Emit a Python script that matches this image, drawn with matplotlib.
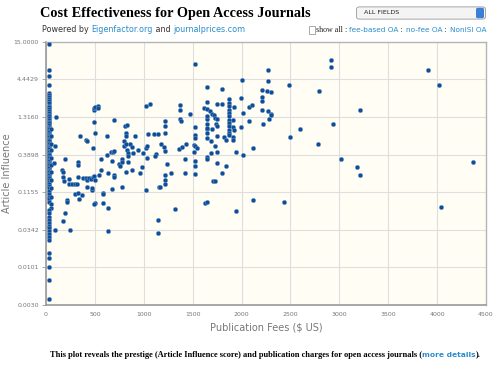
import matplotlib
matplotlib.use("Agg")
import matplotlib.pyplot as plt
from matplotlib.patches import FancyBboxPatch, Rectangle
from matplotlib.ticker import FixedLocator, FixedFormatter, NullLocator

# journals that charge nothing (drawn at the left edge)
free_fee = [30] * 70 + [50] * 12
free_ai = [14.0, 6.0, 4.9, 3.65, 2.9, 2.7, 2.5, 2.35, 2.2, 2.05, 1.9, 1.8, 1.7, 1.6,
           1.5, 1.42, 1.35, 1.28, 1.2, 1.13, 1.07, 1.0, 0.96, 0.92, 0.88, 0.84, 0.8,
           0.77, 0.74, 0.71, 0.68, 0.65, 0.62, 0.6, 0.57, 0.55, 0.52, 0.5, 0.48, 0.46,
           0.44, 0.42, 0.4, 0.38, 0.36, 0.345, 0.33, 0.315, 0.3, 0.29, 0.275, 0.26,
           0.25, 0.24, 0.23, 0.22, 0.21, 0.2, 0.19, 0.18, 0.17, 0.16, 0.15, 0.14, 0.13,
           0.12, 0.11, 0.1, 0.092, 0.085,
           0.9, 0.7, 0.55, 0.45, 0.35, 0.28, 0.22, 0.17, 0.13, 0.1, 0.078, 0.07]
low_free_ai = [0.064, 0.058, 0.052, 0.047, 0.043, 0.039, 0.036, 0.033, 0.03, 0.027,
               0.0245, 0.0162, 0.0136, 0.0102, 0.0067, 0.0036]

# fee-based journals
fees = [103, 95, 79, 95, 192, 164, 171, 178, 185, 239, 236, 270, 294, 315, 212, 219,
        198, 178, 243, 328, 328, 325, 301, 328, 342, 372, 346, 383, 407, 418, 421, 413,
        424, 444, 462, 475, 475, 485, 496, 500, 500, 479, 496, 492, 496, 506, 530, 534,
        503, 496, 541, 561, 564, 582, 578, 578, 629, 629, 623, 626, 629, 677, 698, 664,
        684, 698, 670, 698, 698, 777, 746, 752, 780, 780, 793, 793, 814, 807, 828, 821,
        821, 828, 834, 834, 834, 821, 875, 855, 882, 890, 910, 937, 964, 982, 992, 1026,
        1064, 1026, 1033, 1026, 1039, 1101, 1142, 1033, 1129, 1111, 1152, 1142, 1142,
        1177, 1162,
        1522, 2267, 2001, 2267, 2490, 2788, 1649, 1803, 2206, 2264, 2298, 1990, 2206,
        2206, 1375, 1375, 1642, 1744, 1803, 1621, 1649, 1675, 1700, 1716, 1724, 1922,
        2076, 2110, 2011, 2206, 2271, 2298, 1477, 1375, 1385, 1221, 1221, 1221, 1642,
        1649, 1642, 1751, 1734, 1744,
        1870, 1870, 1870, 1870, 1870, 1870, 1870, 1870, 1870, 1870, 1870, 1870,
        1916, 1916, 1922, 2076, 1990, 2281, 2219, 1526, 1526, 1526, 1511, 1526, 1546,
        1511, 1526, 1526, 1526, 1649, 1649, 1649, 1683, 1819, 1837, 1916, 1916, 1724,
        1744, 1690, 1642, 1649, 1744, 1837, 1803, 1939, 2018, 2121, 1203, 1221, 1238,
        1221, 1279, 1361, 1388, 1436, 1426, 1423, 1221, 1214, 1710, 1724, 1624, 1649,
        2121, 2435, 1324, 1939, 2599, 2493, 2784, 1700, 1744, 1649, 2298,
        2914, 2914, 3906, 4015, 3211, 2937, 3013, 3184, 3211, 4371, 4035]
influence = [1.32, 0.52, 0.30, 0.034, 0.34, 0.24, 0.225, 0.19, 0.163, 0.176, 0.151,
             0.148, 0.151, 0.148, 0.090, 0.083, 0.059, 0.045, 0.034, 0.31, 0.28, 0.19,
             0.110, 0.114, 0.093, 0.106, 0.70, 0.185, 0.185, 0.172, 0.138, 0.63, 0.61,
             0.182, 0.176, 0.124, 0.134, 0.188, 0.196, 0.172, 0.785, 0.476, 1.12, 1.64,
             1.77, 1.83, 1.9, 1.77, 0.081, 0.079, 0.2, 0.34, 0.24, 0.114, 0.109, 0.082,
             0.069, 0.033, 0.70, 0.39, 0.218, 0.127, 1.18, 0.42, 0.43, 0.44, 0.32, 0.2,
             0.19, 0.138, 0.29, 0.265, 0.34, 0.31, 0.6, 0.51, 0.55, 0.97, 1.03, 0.785,
             0.70, 0.456, 0.41, 0.367, 0.306, 0.223, 0.233, 0.55, 0.5, 0.41, 0.70, 0.456,
             0.214, 0.26, 0.41, 1.86, 2.03, 0.487, 0.508, 0.124, 0.75, 0.767, 0.75,
             0.344, 0.40, 0.367, 0.138, 0.047, 0.0305, 0.55, 0.137,
             7.4, 6.1, 4.4, 4.16, 3.65, 3.07, 3.42, 3.28, 3.2, 3.03, 2.97, 2.45, 2.49,
             2.24, 1.97, 1.66, 2.15, 2.01, 2.01, 1.77, 1.73, 1.62, 1.455, 1.39, 1.28,
             1.84, 1.84, 1.97, 1.48, 1.66, 1.62, 1.455, 1.455, 1.25, 1.17, 1.14, 0.985,
             0.785, 1.22, 1.05, 0.882, 1.25, 1.05, 0.972,
             2.32, 2.08, 1.86, 1.67, 1.50, 1.35, 1.21, 1.086, 0.972, 0.873, 0.785, 0.742,
             1.21, 0.941, 0.873, 1.17, 0.941, 1.25, 1.05, 0.963, 0.742, 0.667, 0.537,
             0.508, 0.482, 0.43, 0.319, 0.271, 0.211, 0.923, 0.785, 0.667, 0.597, 0.68,
             0.631, 0.68, 0.631, 0.508, 0.43, 0.41, 0.355, 0.34, 0.296, 0.265, 0.214,
             0.423, 0.379, 0.482, 0.491, 0.441, 0.287, 0.2025, 0.218, 0.471, 0.491,
             0.549, 0.34, 0.216, 0.172, 0.15, 0.163, 0.163, 0.082, 0.083, 0.089, 0.083,
             0.066, 0.063, 0.902, 0.68, 0.549, 0.894, 0.703, 1.35, 1.40,
             8.3, 6.7, 6.0, 3.69, 1.64, 1.06, 0.34, 0.257, 0.198, 0.306, 0.072]

ai_ticks = [0.0030, 0.0101, 0.0342, 0.1155, 0.3898, 1.3160, 4.4429, 15.0000]
fee_ticks = [0, 500, 1000, 1500, 2000, 2500, 3000, 3500, 4000, 4500]

dot = "#0b4f9c"
link = "#2a8ccf"
grey = "#777777"
W, H = 500, 370

fig = plt.figure(figsize=(5, 3.7), dpi=100)
ax = fig.add_axes([0.092, 0.176, 0.88, 0.711])
ax.set_facecolor("#fffdf4")

dot_kw = dict(s=10, color=dot, edgecolors="#7f9cc4", linewidths=0.3, zorder=3)
ax.scatter(free_fee, free_ai, **dot_kw)
ax.scatter([30] * len(low_free_ai), low_free_ai, **dot_kw)
ax.scatter(fees, influence, **dot_kw)

ax.set_yscale("log")
ax.set_xlim(0, 4500)
ax.set_ylim(0.0030, 15.0)
ax.yaxis.set_major_locator(FixedLocator(ai_ticks))
ax.yaxis.set_major_formatter(FixedFormatter(["%.4f" % v for v in ai_ticks]))
ax.yaxis.set_minor_locator(NullLocator())
ax.set_xticks(fee_ticks)
ax.set_xticklabels([str(v) for v in fee_ticks])

ax.grid(True, color="#dedede", linewidth=0.8, zorder=0)
ax.set_axisbelow(True)
ax.tick_params(axis="y", length=3, width=0.6, color="#999999", labelsize=4.5,
               labelcolor=grey, pad=2)
ax.tick_params(axis="x", length=0, labelsize=4.5, labelcolor=grey, pad=5)
for side in ["left", "bottom"]:
    ax.spines[side].set_color("#999999")
    ax.spines[side].set_linewidth(1.2)
for side in ["top", "right"]:
    ax.spines[side].set_color("#b5b5b5")
    ax.spines[side].set_linewidth(1.0)

ax.set_xlabel("Publication Fees ($ US)", fontsize=7, color=grey, labelpad=4)
ax.set_ylabel("Article Influence", fontsize=7, color=grey)
ax.yaxis.set_label_coords(-0.077, 0.5)

renderer = fig.canvas.get_renderer()


def chain(pieces, x0, y, align="left"):
    # lay text pieces next to each other, x0/y in pixels from top-left
    texts = []
    for txt, kw in pieces:
        t = fig.text(0, 1 - y / H, txt, va="center", **kw)
        texts.append(t)
    widths = [t.get_window_extent(renderer).width for t in texts]
    total = sum(widths)
    if align == "center":
        x0 -= total / 2
    elif align == "right":
        x0 -= total
    x = x0
    for t, w in zip(texts, widths):
        t.set_x(x / W)
        x += w
    return x0


# header
fig.text(40 / W, 1 - 13 / H, "Cost Effectiveness for Open Access Journals", fontsize=10.3,
         fontweight="bold", family="Liberation Serif", va="center")
plain = dict(fontsize=5.8, color="#333333")
blue = dict(fontsize=5.8, color=link)
chain([("Powered by ", plain), ("Eigenfactor.org", blue), (" and ", plain),
       ("journalprices.com", blue)], 42, 29.5)

fig.patches.append(FancyBboxPatch((358 / W, 1 - 18 / H), 126 / W, 10 / H,
                                  boxstyle="round,pad=0.003,rounding_size=0.006",
                                  transform=fig.transFigure, facecolor="#f4f4f4",
                                  edgecolor="#9a9a9a", linewidth=0.6))
fig.patches.append(FancyBboxPatch((477 / W, 1 - 17.5 / H), 6 / W, 9 / H,
                                  boxstyle="round,pad=0.002,rounding_size=0.004",
                                  transform=fig.transFigure, facecolor="#3d7fd6",
                                  edgecolor="none"))
fig.text(364 / W, 1 - 12.5 / H, "ALL FIELDS", fontsize=4.6, color="#222222", va="center")

serif = dict(fontsize=5.8, family="Liberation Serif", color="#222222")
small_plain = dict(fontsize=5.3, color="#333333")
small_blue = dict(fontsize=5.3, color=link)
start = chain([("show all", serif), (" : ", serif), ("fee-based OA", small_blue),
               (" : ", small_plain), ("no-fee OA", small_blue), (" : ", small_plain),
               ("NonISI OA", small_blue)], 486, 30, align="right")
fig.patches.append(Rectangle(((start - 7) / W, 1 - 33.5 / H), 6 / W, 7 / H,
                             transform=fig.transFigure, facecolor="white",
                             edgecolor="#888888", linewidth=0.5))

# footer caption
cap = dict(fontsize=6.0, fontweight="bold", family="Liberation Serif", color="black")
capblue = dict(fontsize=5.4, fontweight="bold", color=link)
chain([("This plot reveals the prestige (Article Influence score) and publication "
        "charges for open access journals (", cap), ("more details", capblue), (").", cap)],
      265, 355, align="center")

fig.savefig("out.png", dpi=100)
